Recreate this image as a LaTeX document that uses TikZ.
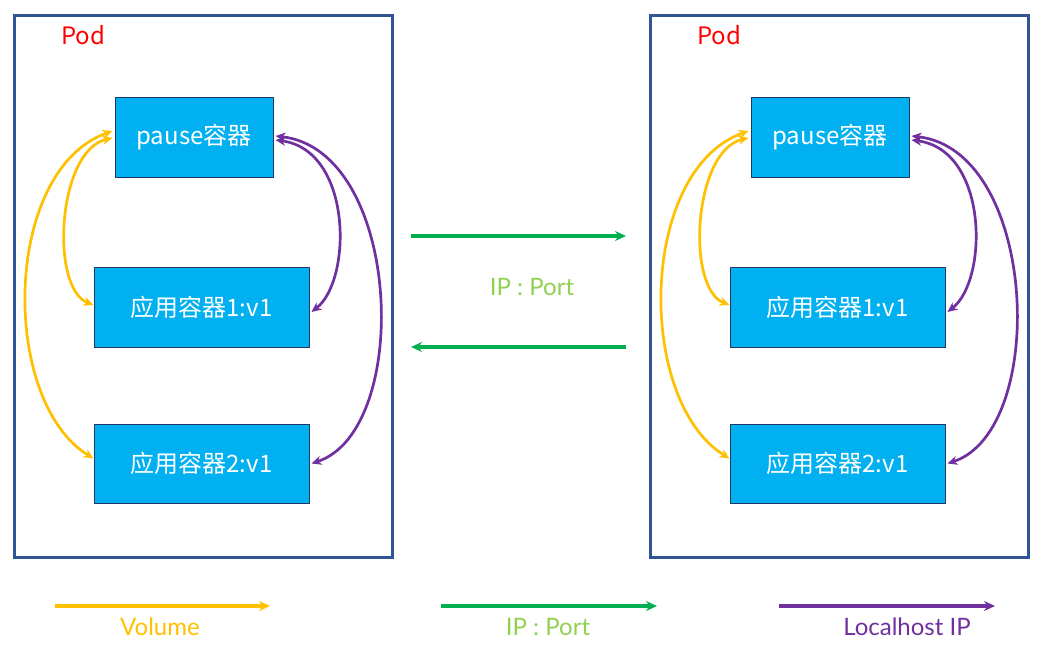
\documentclass[tikz,border=0pt]{standalone}
\usepackage{fontspec}
\setmainfont{Noto Sans CJK SC}
\newfontfamily\legendfont{Lato}
\usetikzlibrary{arrows.meta}
\definecolor{podblue}{HTML}{2F5597}
\definecolor{boxfill}{HTML}{00B0F0}
\definecolor{boxline}{HTML}{1F3864}
\definecolor{volyellow}{HTML}{FFC000}
\definecolor{ipgreen}{HTML}{00B050}
\definecolor{iplabel}{HTML}{92D050}
\definecolor{lhpurple}{HTML}{7030A0}
\tikzset{
  podbox/.style={draw=podblue, line width=3pt, fill=white},
  ctr/.style={draw=boxline, line width=1pt, fill=boxfill, text=white, inner sep=0pt,
    font=\fontsize{24}{28}\selectfont},
  podlabel/.style={text=red, font=\fontsize{24}{28}\selectfont},
  curvearrow/.style={line width=2.7pt, {Stealth[length=10pt,width=9pt]}-{Stealth[length=10pt,width=9pt]}},
  straightarrow/.style={line width=3.5pt, -{Stealth[length=11pt,width=10pt]}},
  legendlabel/.style={font=\legendfont\fontsize{24}{28}\selectfont}
}
\begin{document}
\begin{tikzpicture}[x=1pt,y=-1pt]
\useasboundingbox (0,0) rectangle (1058,653);
\foreach \p/\dx in {L/0,R/636}{
  \begin{scope}[xshift=\dx pt]
    \node[podbox, minimum width=378pt, minimum height=542pt, inner sep=0pt] (pod\p) at (203,286) {};
    \node[podlabel] (podlab\p) at (83,35) {Pod};
    \node[ctr, minimum width=158pt, minimum height=80pt] (pause\p) at (194,137) {pause容器};
    \node[ctr, minimum width=215pt, minimum height=80pt] (appa\p) at (201.5,307) {应用容器1:v1};
    \node[ctr, minimum width=215pt, minimum height=79pt] (appb\p) at (201.5,463.5) {应用容器2:v1};
    % volume
    \draw[curvearrow, volyellow] ([yshift=6pt,xshift=-2pt]pause\p.west) .. controls +(-110,39) and +(-94,-58) .. ([yshift=5pt]appb\p.west);
    \draw[curvearrow, volyellow] ([yshift=-1pt,xshift=-2pt]pause\p.west) .. controls +(-55,12) and +(-44,-17) .. ([yshift=2pt]appa\p.west);
    % localhost
    \draw[curvearrow, lhpurple] ([yshift=-3pt,xshift=2pt]pause\p.east) .. controls +(77,10) and +(41,-32) .. ([yshift=-5pt,xshift=2pt]appa\p.east);
    \draw[curvearrow, lhpurple] ([yshift=1pt,xshift=2pt]pause\p.east) .. controls +(127,14) and +(101,-33) .. ([xshift=2pt]appb\p.east);
  \end{scope}
}
% middle IP:Port arrows
\coordinate (ma1) at (411,236);
\coordinate (mb1) at (626,236);
\coordinate (ma2) at (626,347);
\coordinate (mb2) at (411,347);
\draw[straightarrow, ipgreen] (ma1) -- (mb1);
\draw[straightarrow, ipgreen] (ma2) -- (mb2);
\node[legendlabel, text=iplabel] (midlab) at (532,287) {IP : Port};
% legend
\coordinate (la1) at (55,606);
\coordinate (lb1) at (270,606);
\coordinate (la2) at (441,606);
\coordinate (lb2) at (657,606);
\coordinate (la3) at (779,606);
\coordinate (lb3) at (995,606);
\draw[straightarrow, volyellow] (la1) -- (lb1);
\draw[straightarrow, ipgreen] (la2) -- (lb2);
\draw[straightarrow, lhpurple] (la3) -- (lb3);
\node[legendlabel, text=volyellow] (leg1) at (160,627) {Volume};
\node[legendlabel, text=iplabel] (leg2) at (548,627) {IP : Port};
\node[legendlabel, text=lhpurple] (leg3) at (907,627) {Localhost IP};
\end{tikzpicture}
\end{document}
